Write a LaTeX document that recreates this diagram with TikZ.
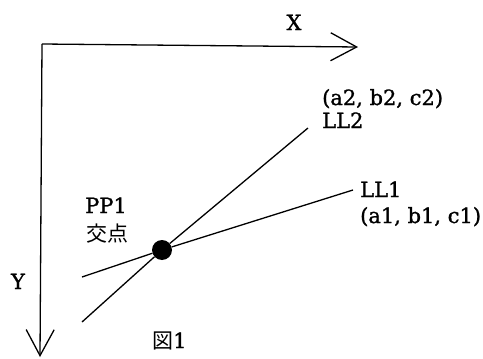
\documentclass[tikz,border=0pt]{standalone}
\usepackage{fontspec}
\setmainfont{DejaVu Serif}[FakeBold=1.2]
\newfontfamily\cjk{Noto Sans CJK JP}
\usetikzlibrary{arrows.meta}

\begin{document}
\begin{tikzpicture}[
    x=1pt, y=-1pt,
    axis/.style={line width=1.3pt, -{Straight Barb[length=26pt, width=28pt, line width=1.3pt]}},
    ray/.style={line width=1.3pt},
    lbl/.style={inner sep=0pt, anchor=base west, font=\fontsize{21}{25}\selectfont},
    jlbl/.style={inner sep=0pt, anchor=base west, font=\fontsize{21}{25}\selectfont\cjk},
    dot/.style={circle, fill=black, inner sep=0pt, minimum size=20pt}
]
\useasboundingbox (0,0) rectangle (483,359);

% Axes
\coordinate (corner) at (42,44);
\coordinate (xend) at (358,47);
\coordinate (yend) at (40,357);
\draw[axis] (corner) -- (xend);
\draw[axis] (corner) -- (yend);
\node[lbl, anchor=base] (xlbl) at (294,30) {X};
\node[lbl, anchor=base] (ylbl) at (18,289) {Y};

% Intersection point
\node[dot] (pp) at (162,250) {};
\node[lbl] (pplbl) at (85,213) {PP1};
\node[jlbl] (ppjp) at (86,241) {交点};

% Line LL2
\coordinate (ll2s) at (82,322);
\coordinate (ll2e) at (308,128);
\node[lbl] (abc2) at (322,105) {(a2, b2, c2)};
\node[lbl] (ll2lbl) at (322,128) {LL2};
\draw[ray] (ll2s) -- (pp) -- (ll2e);

% Line LL1
\coordinate (ll1s) at (82,277);
\coordinate (ll1e) at (353,190);
\node[lbl] (ll1lbl) at (360,197) {LL1};
\node[lbl] (abc1) at (360,223) {(a1, b1, c1)};
\draw[ray] (ll1s) -- (pp) -- (ll1e);

% Caption
\node[lbl] (fig) at (152,348) {{\cjk 図}1};

\end{tikzpicture}
\end{document}
